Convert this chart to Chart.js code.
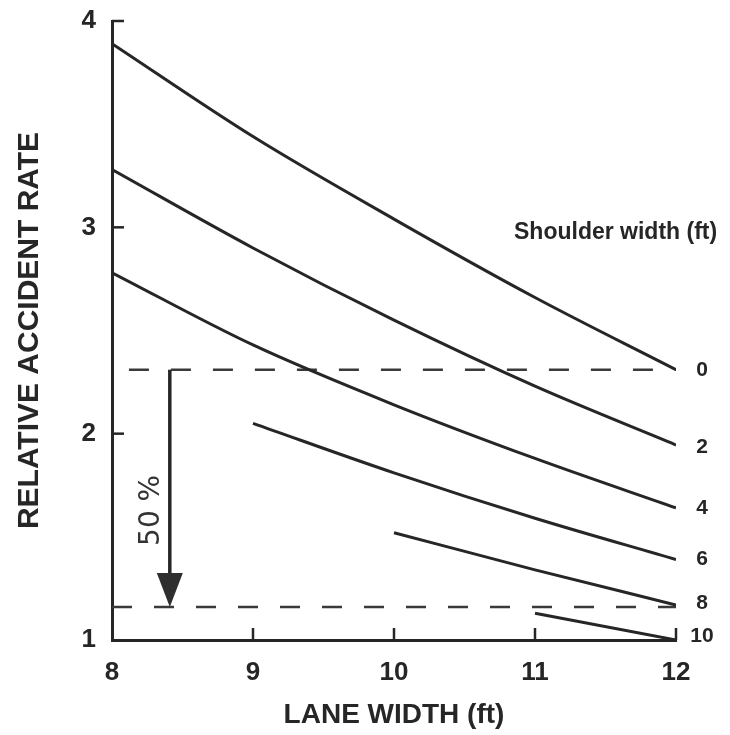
<!DOCTYPE html>
<html>
<head>
<meta charset="utf-8">
<title>Relative accident rate vs lane width</title>
<script src="https://cdn.jsdelivr.net/npm/chart.js@4/dist/chart.umd.min.js"></script>
<style>
  body { margin: 0; background: #fff; }
  #wrap { width: 730px; height: 735px; }
</style>
</head>
<body>
<div id="wrap"><canvas id="grafico-taxa" width="730" height="735"></canvas></div>
<script>
// lane width (ft) on x, one list of rates per shoulder width
var laneWidth = [8, 9, 10, 11, 12];
var shoulderWidth = ['0', '2', '4', '6', '8', '10'];
var rate0  = [3.89, 3.44, 3.04, 2.66, 2.31];
var rate2  = [3.28, 2.90, 2.55, 2.23, 1.945];
var rate4  = [2.78, 2.43, 2.14, 1.88, 1.64];
var rate6  = [null, 2.05, 1.81, 1.59, 1.39];
var rate8  = [null, null, 1.52, 1.34, 1.17];
var rate10 = [null, null, null, 1.13, 1.00];
var xTicks = [8, 9, 10, 11, 12];
var yTicks = [1, 2, 3, 4];

// the 50 % reduction marker
var refLevels = [2.31, 1.16];
var arrowAt = 8.41;

var ink = '#262626';
var font = '"Liberation Sans", Arial, sans-serif';

function pontos(rates) {
    var out = [];
    for (var i = 0; i < laneWidth.length; i++) {
        if (rates[i] != null) out.push({ x: laneWidth[i], y: rates[i] });
    }
    return out;
}

function linhaRef(level, startX) {
    return {
        data: [{ x: startX, y: level }, { x: laneWidth[laneWidth.length - 1], y: level }],
        borderColor: '#3a3a3a',
        borderWidth: 2.5,
        borderDash: [20, 22],
        pointRadius: 0
    };
}

var allRates = [rate0, rate2, rate4, rate6, rate8, rate10];
var datasets = allRates.map(function (r, i) {
    return {
        label: shoulderWidth[i],
        data: pontos(r),
        borderColor: ink,
        borderWidth: 3,
        pointRadius: 0,
        cubicInterpolationMode: 'monotone'
    };
});
datasets.push(linhaRef(refLevels[0], 8.12));
datasets.push(linhaRef(refLevels[1], 8));

// inner tick marks, arrow, side labels
var extras = {
    id: 'extras',
    afterDatasetsDraw: function (chart) {
        var ctx = chart.ctx, xs = chart.scales.x, ys = chart.scales.y;
        var x0 = xs.getPixelForValue(8), y0 = ys.getPixelForValue(1);
        ctx.save();
        ctx.strokeStyle = ink;
        ctx.lineWidth = 2.5;
        xTicks.slice(1).forEach(function (v) {
            var px = xs.getPixelForValue(v);
            ctx.beginPath(); ctx.moveTo(px, y0); ctx.lineTo(px, y0 - 12); ctx.stroke();
        });
        yTicks.slice(1).forEach(function (v) {
            var py = ys.getPixelForValue(v);
            ctx.beginPath(); ctx.moveTo(x0, py); ctx.lineTo(x0 + 12, py); ctx.stroke();
        });

        // arrow
        var ax = xs.getPixelForValue(arrowAt);
        var aTop = ys.getPixelForValue(refLevels[0]);
        var aBot = ys.getPixelForValue(refLevels[1]);
        ctx.lineWidth = 3.5;
        ctx.beginPath(); ctx.moveTo(ax, aTop); ctx.lineTo(ax, aBot - 30); ctx.stroke();
        ctx.fillStyle = '#2e2e2e';
        ctx.beginPath();
        ctx.moveTo(ax - 13, aBot - 34);
        ctx.lineTo(ax + 13, aBot - 34);
        ctx.lineTo(ax, aBot);
        ctx.closePath();
        ctx.fill();

        ctx.save();
        ctx.translate(ax - 18, (aTop + aBot) / 2 + 22);
        ctx.rotate(-Math.PI / 2);
        ctx.fillStyle = '#333';
        ctx.font = '28px "DejaVu Sans", sans-serif';
        ctx.textAlign = 'center';
        ctx.textBaseline = 'middle';
        ctx.fillText('50 %', 0, 0);
        ctx.restore();

        // shoulder width labels at the end of each curve
        ctx.fillStyle = ink;
        ctx.font = 'bold 21px ' + font;
        ctx.textAlign = 'center';
        ctx.textBaseline = 'middle';
        var offs = [0, 2, 0, 0, -2, -4];
        allRates.forEach(function (r, i) {
            var last = r[r.length - 1];
            ctx.fillText(shoulderWidth[i], xs.getPixelForValue(12) + 26, ys.getPixelForValue(last) + offs[i]);
        });
        ctx.font = 'bold 23px ' + font;
        ctx.textAlign = 'left';
        ctx.fillText('Shoulder width (ft)', 514, 233);
        ctx.restore();
    }
};

function grafTaxa() {
    var ctxTaxa = document.getElementById('grafico-taxa').getContext('2d');
    var myTaxaChart = new Chart(ctxTaxa, {
        type: 'line',
        data: { datasets: datasets },
        options: {
            responsive: false,
            animation: false,
            layout: { padding: { top: 21, right: 54, left: 0, bottom: 0 } },
            plugins: { legend: { display: false }, tooltip: { enabled: false } },
            scales: {
                x: {
                    type: 'linear',
                    min: 8, max: 12,
                    afterFit: function (s) { s.height = 95; s.paddingLeft = 0; s.paddingRight = 0; },
                    afterBuildTicks: function (s) { s.ticks = xTicks.map(function (v) { return { value: v }; }); },
                    grid: { display: false, drawTicks: false },
                    border: { display: true, color: ink, width: 3 },
                    ticks: { color: ink, padding: 17, font: { family: font, size: 26, weight: 'bold' } },
                    title: {
                        display: true, text: 'LANE WIDTH (ft)', color: ink,
                        font: { family: font, size: 28, weight: 'bold' },
                        padding: { top: 0, bottom: 3 }
                    }
                },
                y: {
                    type: 'linear',
                    min: 1, max: 4,
                    afterFit: function (s) { s.width = 112; s.paddingTop = 0; s.paddingBottom = 0; },
                    afterBuildTicks: function (s) { s.ticks = yTicks.map(function (v) { return { value: v }; }); },
                    grid: { display: false, drawTicks: false },
                    border: { display: true, color: ink, width: 3 },
                    ticks: { color: ink, padding: 16, font: { family: font, size: 26, weight: 'bold' } },
                    title: {
                        display: true, text: 'RELATIVE ACCIDENT RATE', color: ink,
                        font: { family: font, size: 30, weight: 'bold' },
                        padding: { top: 12, bottom: 0 }
                    }
                }
            }
        },
        plugins: [extras]
    });
}

grafTaxa();
</script>
</body>
</html>
